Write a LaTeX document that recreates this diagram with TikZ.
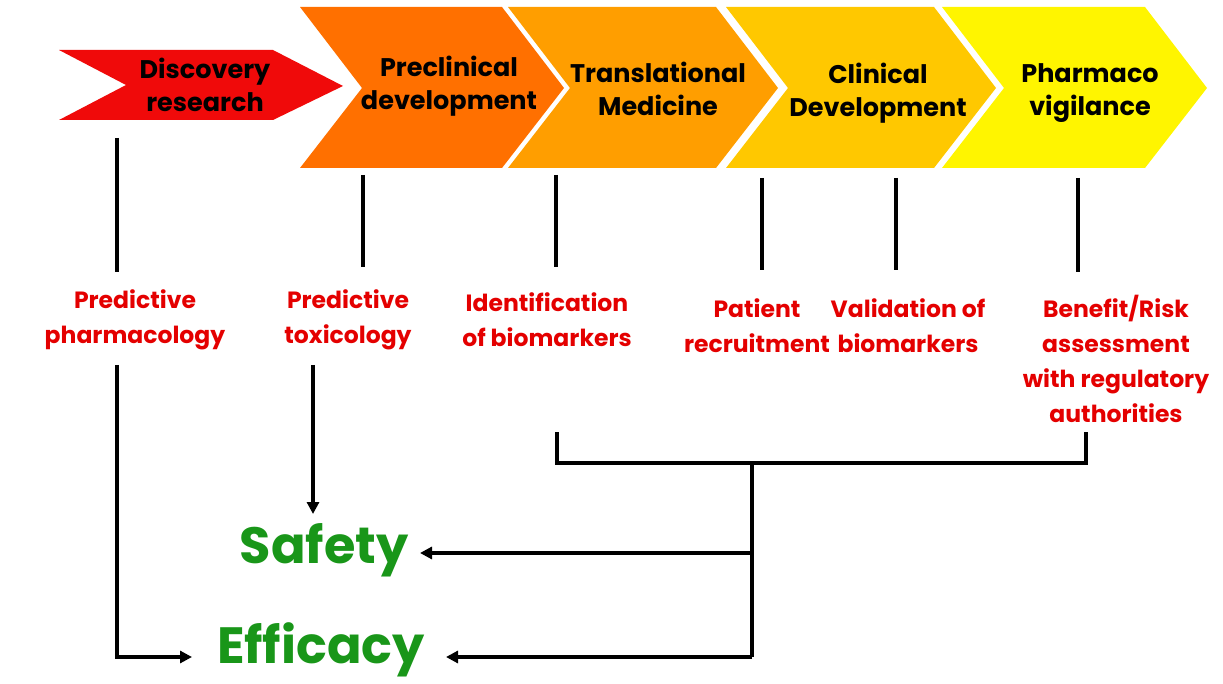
\documentclass[tikz,border=0pt]{standalone}
\usepackage{fontspec}
\setmainfont{Poppins}
\usetikzlibrary{arrows.meta}
\definecolor{cDisc}{RGB}{240,10,10}
\definecolor{cPre}{RGB}{255,112,0}
\definecolor{cTra}{RGB}{255,158,0}
\definecolor{cCli}{RGB}{255,200,0}
\definecolor{cPha}{RGB}{255,245,0}
\definecolor{lbl}{RGB}{228,0,0}
\definecolor{goalgreen}{RGB}{25,150,25}
\newcommand\mychev[3]{\fill[#3] (#1,7) -- (#2,7) -- (#2+62,88) -- (#2,168) -- (#1,168) -- (#1+62,88) -- cycle;}
\begin{document}
\begin{tikzpicture}[x=1pt,y=-1pt,
  conn/.style={line width=3.5pt},
  arr/.style={conn,-{Triangle[length=12pt,width=12pt]}},
  stage/.style={font=\fontsize{25.5}{33.5}\selectfont\bfseries, text=black, align=center, inner sep=0pt},
  task/.style={font=\fontsize{23.5}{35}\selectfont\bfseries, text=lbl, align=center, inner sep=0pt},
  goal/.style={font=\fontsize{51}{51}\selectfont\bfseries, text=goalgreen, inner sep=0pt}]
\useasboundingbox (0,0) rectangle (1223,684);
% stages
\fill[cDisc] (59,50) -- (273,50) -- (343,86) -- (273,120) -- (59,120) -- (126,85) -- cycle;
\mychev{300}{502}{cPre}
\mychev{508}{716}{cTra}
\mychev{726}{934}{cCli}
\mychev{942}{1145}{cPha}
\node[stage] (disc) at (205,85) {Discovery\\research};
\node[stage] (pre) at (449,86) {Preclinical\\development};
\node[stage] (tra) at (658,89) {Translational\\Medicine};
\node[stage] (cli) at (878,93) {Clinical\\Development};
\node[stage] (pha) at (1090,93) {Pharmaco\\vigilance};
% tasks
\node[task] (ppha) at (135,320) {Predictive\\pharmacology};
\node[task] (ptox) at (348,320) {Predictive\\toxicology};
\node[task] (ibio) at (547,320) {Identification\\of biomarkers};
\node[task] (prec) at (757,326) {Patient\\recruitment};
\node[task] (vbio) at (908,326) {Validation of\\biomarkers};
\node[task] (bris) at (1116,359) {Benefit/Risk\\assessment\\with regulatory\\authorities};
% goals
\node[goal] (saf) at (324,550) {Safety};
\node[goal] (eff) at (321,650) {Efficacy};
% stage-to-task connectors
\coordinate (s1) at (117,138); \coordinate (e1) at (117,272);
\coordinate (s2) at (363,175); \coordinate (e2) at (363,267);
\coordinate (s3) at (556,175); \coordinate (e3) at (556,267);
\coordinate (s4) at (762,178); \coordinate (e4) at (762,270);
\coordinate (s5) at (896,178); \coordinate (e5) at (896,270);
\coordinate (s6) at (1078,178); \coordinate (e6) at (1078,272);
\foreach \i in {1,...,6} \draw[conn] (s\i) -- (e\i);
% task-to-goal connectors
\coordinate (pb) at (117,365);
\coordinate (effL) at (192,657);
\draw[arr] (pb) |- (effL);
\coordinate (tb) at (313,365);
\coordinate (safT) at (313,514);
\draw[arr] (tb) -- (safT);
\coordinate (bl) at (557,432);
\coordinate (br) at (1086,432);
\coordinate (bm) at (752,463);
\draw[conn] (bl) |- (br |- bm) -- (br);
\coordinate (j1) at (752,553);
\coordinate (j2) at (752,657);
\coordinate (safR) at (420,553);
\coordinate (effR) at (446,657);
\draw[conn] (bm) -- (j2);
\draw[arr] (j1) -- (safR);
\draw[arr] (j2) -- (effR);
\end{tikzpicture}
\end{document}
